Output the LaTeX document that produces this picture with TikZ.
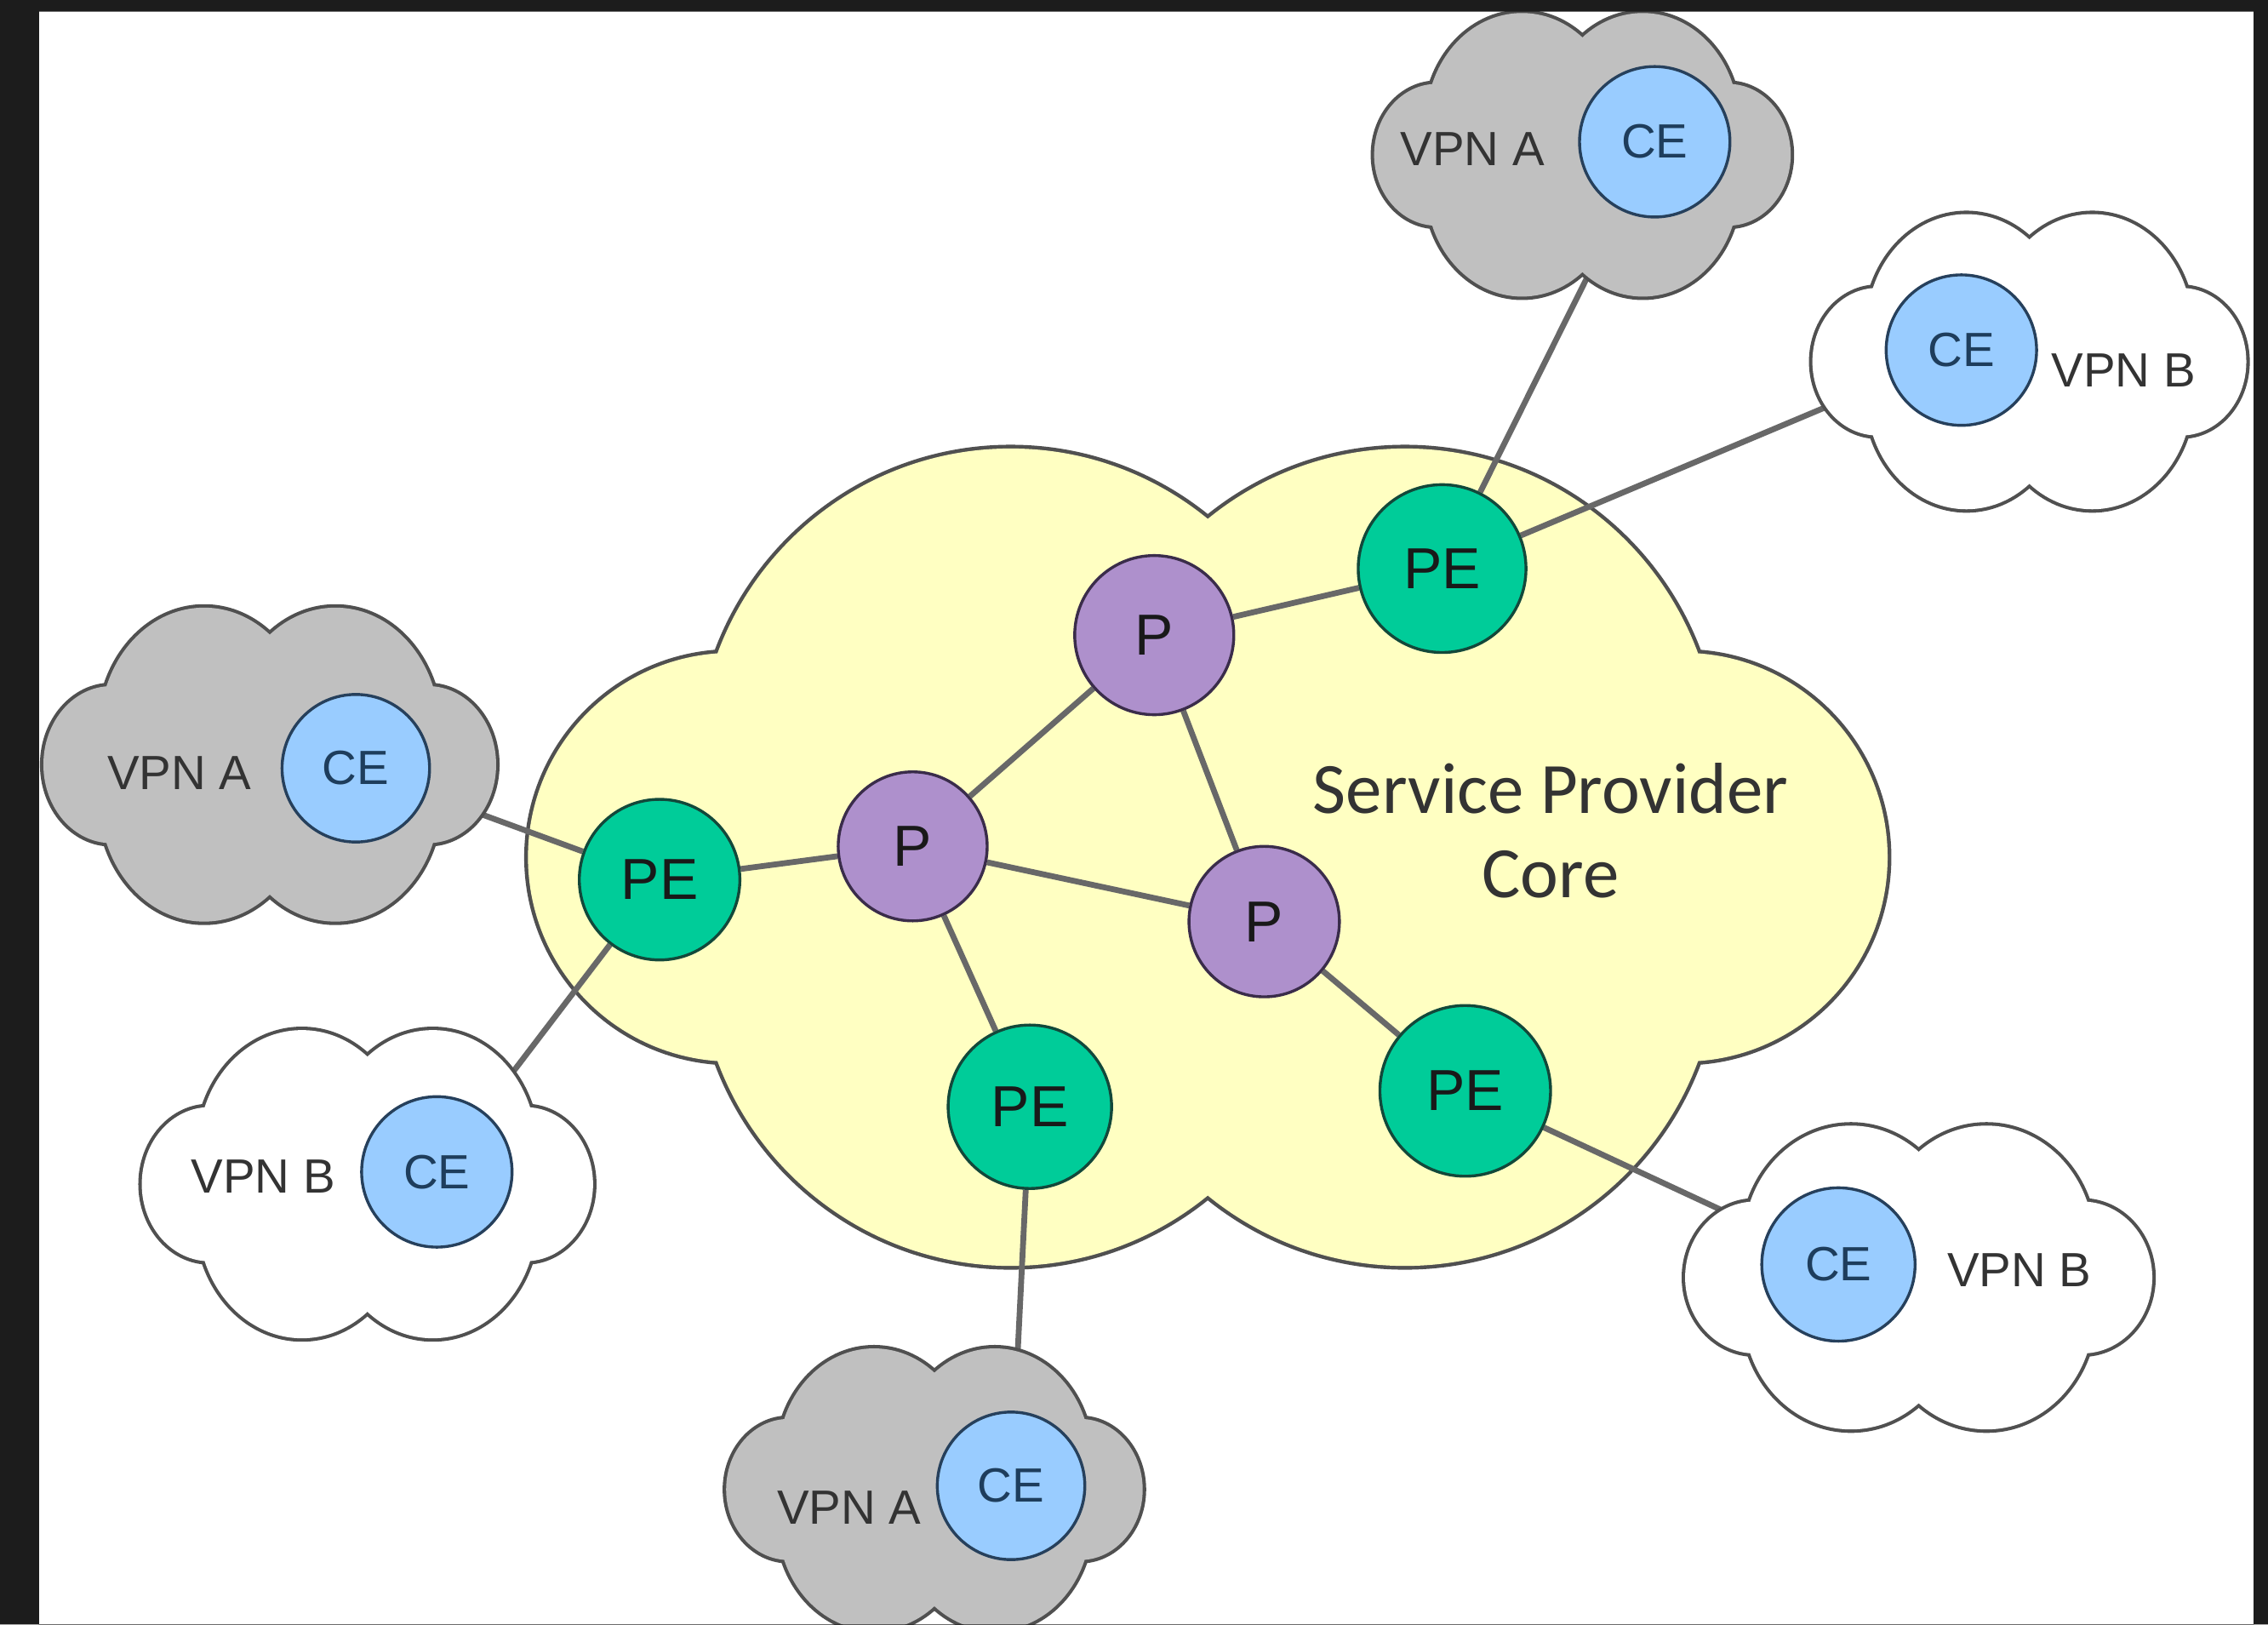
\documentclass[tikz,border=0pt]{standalone}
\usepackage{fontspec}
\setmainfont{Liberation Sans}
\newfontfamily\corefont{Carlito}
\pgfdeclarelayer{bg}
\pgfdeclarelayer{edges}
\pgfdeclarelayer{clouds}
\pgfdeclarelayer{frame}
\pgfsetlayers{bg,edges,clouds,main,frame}
\definecolor{coreyellow}{HTML}{FFFFC2}
\definecolor{cloudgray}{HTML}{C0C0C0}
\definecolor{cloudline}{HTML}{505050}
\definecolor{edgegray}{HTML}{686868}
\definecolor{pegreen}{HTML}{00CC99}
\definecolor{peborder}{HTML}{12483A}
\definecolor{ppurple}{HTML}{AE90CC}
\definecolor{pborder}{HTML}{3A2C4A}
\definecolor{ceblue}{HTML}{99CCFF}
\definecolor{ceborder}{HTML}{26405C}
\definecolor{cetext}{HTML}{1E3D5C}
\definecolor{vpntext}{HTML}{333333}
\definecolor{frameblack}{HTML}{1C1C1C}
% cloud: #1 x0, #2 y0, #3 width, #4 height, #5 fill, #6 doubled outline width
\newcommand\netcloud[6]{%
\begin{scope}[shift={(#1,#2)}, x={(#3*0.5pt,0pt)}, y={(0pt,-#4*0.5pt)}]
\foreach \cx/\cy/\rx/\ry in {0.355/0.385/0.23/0.385, 0.645/0.385/0.23/0.385,
  0.355/0.615/0.23/0.385, 0.645/0.615/0.23/0.385, 0.15/0.5/0.15/0.25, 0.85/0.5/0.15/0.25}
  {\draw[draw=cloudline, line width=#6] (\cx,\cy) ellipse [x radius=\rx, y radius=\ry];}
\foreach \cx/\cy/\rx/\ry in {0.355/0.385/0.23/0.385, 0.645/0.385/0.23/0.385,
  0.355/0.615/0.23/0.385, 0.645/0.615/0.23/0.385, 0.15/0.5/0.15/0.25, 0.85/0.5/0.15/0.25}
  {\fill[#5] (\cx,\cy) ellipse [x radius=\rx, y radius=\ry];}
\end{scope}}
\tikzset{
  penode/.style={circle, fill=pegreen, draw=peborder, line width=1pt, inner sep=0pt,
    minimum size=#1, font=\fontsize{20}{24}\selectfont, text=black!90},
  pnode/.style={circle, fill=ppurple, draw=pborder, line width=1pt, inner sep=0pt,
    minimum size=#1, font=\fontsize{20}{24}\selectfont, text=black!90},
  cenode/.style={circle, fill=ceblue, draw=ceborder, line width=1pt, inner sep=0pt,
    minimum size=#1, font=\fontsize{16.6}{20}\selectfont, text=cetext},
  vpnlabel/.style={inner sep=0pt, font=\fontsize{16.6}{20}\selectfont, text=vpntext},
  coretext/.style={inner sep=0pt, align=center, font=\corefont\fontsize{25}{29}\selectfont, text=vpntext},
  edge/.style={draw=edgegray, line width=2pt}
}
\begin{document}
\begin{tikzpicture}[x=0.5pt, y=-0.5pt]
\useasboundingbox (0,0) rectangle (1568,1122.8);
% core routers
\node[penode=58pt] (peTR) at (997,393) {PE};
\node[pnode=55pt] (pTop) at (798,439) {P};
\node[pnode=51.5pt] (pL) at (631,585) {P};
\node[pnode=52pt] (pR) at (874,637) {P};
\node[penode=55.5pt] (peL) at (456,608) {PE};
\node[penode=56.5pt] (peB) at (712,765) {PE};
\node[penode=59pt] (peBR) at (1013,754) {PE};
\node[coretext] (core) at (1072,574) {Service Provider\\Core};
% customer edges
\node[cenode=52pt] (ceA1) at (1144,98) {CE};
\node[cenode=52pt] (ceB1) at (1356,242) {CE};
\node[cenode=51pt] (ceA2) at (246,531) {CE};
\node[cenode=52pt] (ceB2) at (302,810) {CE};
\node[cenode=53pt] (ceB3) at (1271,874) {CE};
\node[cenode=51pt] (ceA3) at (699,1027) {CE};
\node[vpnlabel] (tA1) at (1018,103) {VPN A};
\node[vpnlabel] (tB1) at (1468,256) {VPN B};
\node[vpnlabel] (tA2) at (124,534) {VPN A};
\node[vpnlabel] (tB2) at (182,813) {VPN B};
\node[vpnlabel] (tB3) at (1396,878) {VPN B};
\node[vpnlabel] (tA3) at (587,1042) {VPN A};
\begin{pgfonlayer}{bg}
\fill[white] (0,0) rectangle (1568,1122.8);
\netcloud{365}{310}{940}{565}{coreyellow}{2.6pt}
\end{pgfonlayer}
\begin{pgfonlayer}{edges}
\draw[edge] (peL) -- (pL);
\draw[edge] (pL) -- (pTop);
\draw[edge] (pTop) -- (peTR);
\draw[edge] (pTop) -- (pR);
\draw[edge] (pL) -- (pR);
\draw[edge] (pL) -- (peB);
\draw[edge] (pR) -- (peBR);
\draw[edge] (peTR) -- (ceA1);
\draw[edge] (peTR) -- (ceB1);
\draw[edge] (peL) -- (ceA2);
\draw[edge] (peL) -- (ceB2);
\draw[edge] (peB) -- (ceA3);
\draw[edge] (peBR) -- (ceB3);
\end{pgfonlayer}
\begin{pgfonlayer}{clouds}
\netcloud{950}{9}{288}{196}{cloudgray}{2.4pt}
\netcloud{1253}{148}{300}{204}{white}{2.4pt}
\netcloud{30}{420}{313}{217}{cloudgray}{2.4pt}
\netcloud{98}{712}{312}{213}{white}{2.4pt}
\netcloud{1165}{778}{323}{210}{white}{2.4pt}
\netcloud{502}{932}{288}{195}{cloudgray}{2.4pt}
\end{pgfonlayer}
\begin{pgfonlayer}{frame}
\fill[frameblack, even odd rule] (0,0) rectangle (1568,1122.8) (27,8) rectangle (1558,1130);
\end{pgfonlayer}
\end{tikzpicture}
\end{document}
